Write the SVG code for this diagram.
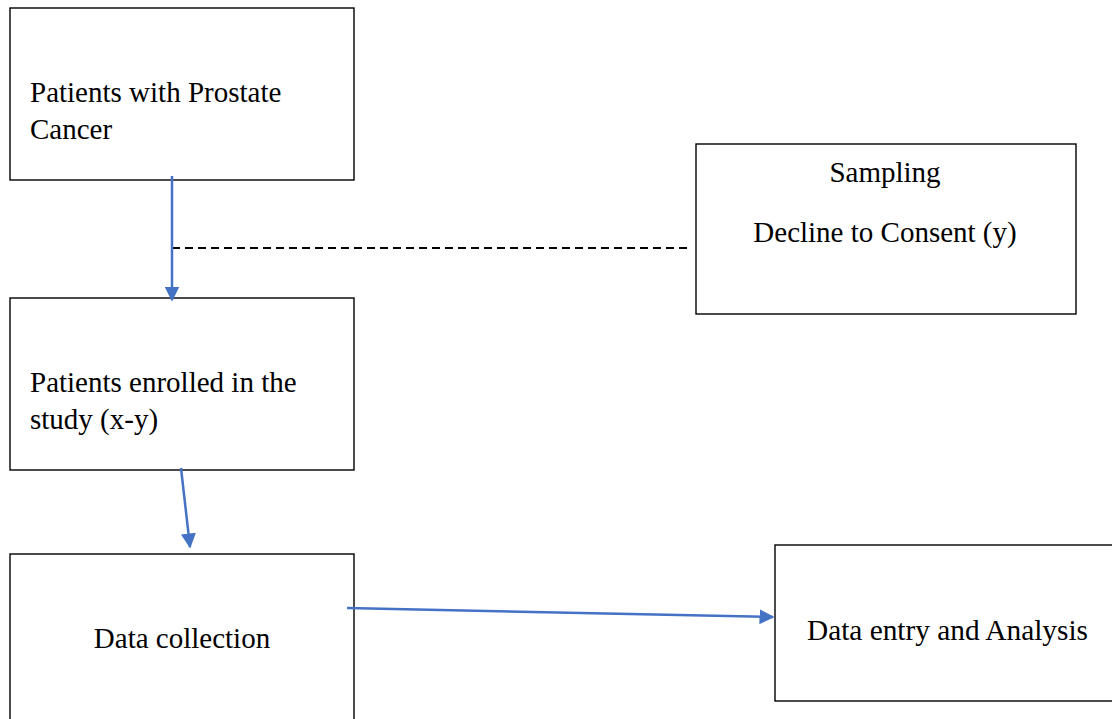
<svg xmlns="http://www.w3.org/2000/svg" width="1112" height="719" viewBox="0 0 1112 719">
<style>
.box{fill:#fff;stroke:#000;stroke-width:1.4}
.t{font-family:"Liberation Serif","Times New Roman",serif;font-size:29px;fill:#000}
.c{stroke:#4472C4;stroke-width:2.5;fill:none}
.d{stroke:#000;stroke-width:2;stroke-dasharray:8,5;fill:none}
</style>
<defs>
<marker id="ah" viewBox="0 0 10 10" refX="9" refY="5" markerWidth="6" markerHeight="6" markerUnits="strokeWidth" orient="auto">
<path d="M0,0 L10,5 L0,10 z" fill="#4472C4"/>
</marker>
</defs>
<rect width="1112" height="719" fill="#fff"/>
<g id="n1">
<rect class="box" x="10" y="8" width="344" height="172"/>
<text class="t" x="30" y="102">Patients with Prostate</text>
<text class="t" x="30" y="139">Cancer</text>
</g>
<g id="n2">
<rect class="box" x="696" y="144" width="380" height="170"/>
<text class="t" x="885" y="182" text-anchor="middle">Sampling</text>
<text class="t" x="885" y="242" text-anchor="middle">Decline to Consent (y)</text>
</g>
<g id="n3">
<rect class="box" x="10" y="298" width="344" height="172"/>
<text class="t" x="30" y="392">Patients enrolled in the</text>
<text class="t" x="30" y="429">study (x-y)</text>
</g>
<g id="n4">
<rect class="box" x="10" y="554" width="344" height="175"/>
<text class="t" x="182" y="648" text-anchor="middle">Data collection</text>
</g>
<g id="n5">
<rect class="box" x="775" y="545" width="345" height="156"/>
<text class="t" x="807" y="640" textLength="281" lengthAdjust="spacingAndGlyphs">Data entry and Analysis</text>
</g>
<g id="connectors">
<line class="d" x1="172" y1="248" x2="690" y2="248"/>
<line class="c" x1="172" y1="176" x2="172" y2="300" marker-end="url(#ah)"/>
<line class="c" x1="181" y1="468" x2="190" y2="547" marker-end="url(#ah)"/>
<line class="c" x1="347" y1="608" x2="773" y2="617" marker-end="url(#ah)"/>
</g>
</svg>
